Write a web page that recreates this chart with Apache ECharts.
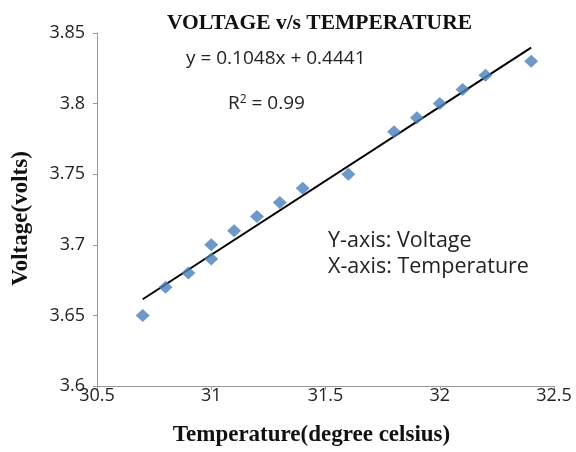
<!DOCTYPE html>
<html>
<head>
<meta charset="utf-8">
<script src="https://cdn.jsdelivr.net/npm/echarts@6/dist/echarts.min.js"></script>
<style>
html, body { margin: 0; padding: 0; background: #fff; }
#main { width: 576px; height: 452px; }
</style>
</head>
<body>
<div id="main"></div>
<script>
// measured points
var temps = [30.7, 30.8, 30.9, 31.0, 31.0, 31.1, 31.2, 31.3, 31.4, 31.6, 31.8, 31.9, 32.0, 32.1, 32.2, 32.4];
var volts = [3.65, 3.67, 3.68, 3.69, 3.70, 3.71, 3.72, 3.73, 3.74, 3.75, 3.78, 3.79, 3.80, 3.81, 3.82, 3.83];
// trendline y = 0.1048x + 0.4441, drawn across the data range
var slope = 0.1048;
var intercept = 0.4441;
var trendX = [30.7, 32.4];

var points = [];
for (var i = 0; i < temps.length; i++) {
	points.push([temps[i], volts[i]]);
}
var trend = [];
for (var j = 0; j < trendX.length; j++) {
	trend.push([trendX[j], slope * trendX[j] + intercept]);
}

var sansFont = 'Open Sans';
var serifFont = 'Liberation Serif';

var chart = echarts.init(document.getElementById('main'));
chart.setOption({
	animation : false,
	title : {
		text : 'VOLTAGE v/s TEMPERATURE',
		left : 162,
		top : 7,
		textStyle : {
			fontFamily : serifFont,
			fontWeight : 'bold',
			fontSize : 21.5,
			color : '#111'
		}
	},
	grid : {
		left : 97,
		right : 22,
		top : 33,
		bottom : 63
	},
	xAxis : {
		type : 'value',
		min : 30.5,
		max : 32.5,
		interval : 0.5,
		name : 'Temperature(degree celsius)',
		nameLocation : 'middle',
		nameGap : 38,
		nameTextStyle : {
			fontFamily : serifFont,
			fontWeight : 'bold',
			fontSize : 23,
			color : '#111',
			padding : [ 0, 28, 0, 0 ]
		},
		axisLine : { lineStyle : { color : '#999' } },
		axisTick : { lineStyle : { color : '#999' }, length : 4 },
		axisLabel : { fontFamily : sansFont, fontSize : 18, color : '#222', margin : 1 },
		splitLine : { show : false }
	},
	yAxis : {
		type : 'value',
		min : 3.6,
		max : 3.85,
		interval : 0.05,
		name : 'Voltage(volts)',
		nameLocation : 'middle',
		nameGap : 64,
		nameTextStyle : {
			fontFamily : serifFont,
			fontWeight : 'bold',
			fontSize : 23,
			color : '#111',
			padding : [ 0, 18, 0, 0 ]
		},
		axisLine : { show : true, lineStyle : { color : '#999' } },
		axisTick : { show : true, lineStyle : { color : '#999' }, length : 4 },
		axisLabel : { fontFamily : sansFont, fontSize : 18, color : '#222', margin : 12 },
		splitLine : { show : false }
	},
	graphic : [ {
		type : 'text',
		left : 186,
		top : 49,
		style : { text : 'y = 0.1048x + 0.4441', font : '19px "Open Sans"', fill : '#222' }
	}, {
		type : 'text',
		left : 228,
		top : 94,
		style : {
			text : 'R{sup|2} = 0.99',
			font : '19px "Open Sans"',
			fill : '#222',
			rich : { sup : { fontSize : 12, verticalAlign : 'top', padding : [ 0, 0, 7, 0 ], fontFamily : 'Open Sans' } }
		}
	}, {
		type : 'text',
		left : 328,
		top : 230,
		style : { text : 'Y-axis: Voltage', font : '21.5px "Open Sans"', fill : '#222' }
	}, {
		type : 'text',
		left : 328,
		top : 256,
		style : { text : 'X-axis: Temperature', font : '21.5px "Open Sans"', fill : '#222' }
	} ],
	series : [ {
		type : 'line',
		data : trend,
		symbol : 'none',
		lineStyle : { color : '#000', width : 2 },
		z : 1
	}, {
		type : 'scatter',
		data : points,
		symbol : 'diamond',
		symbolSize : [ 14, 13 ],
		itemStyle : { color : '#4a7ebb' },
		z : 2
	} ]
});
</script>
</body>
</html>
